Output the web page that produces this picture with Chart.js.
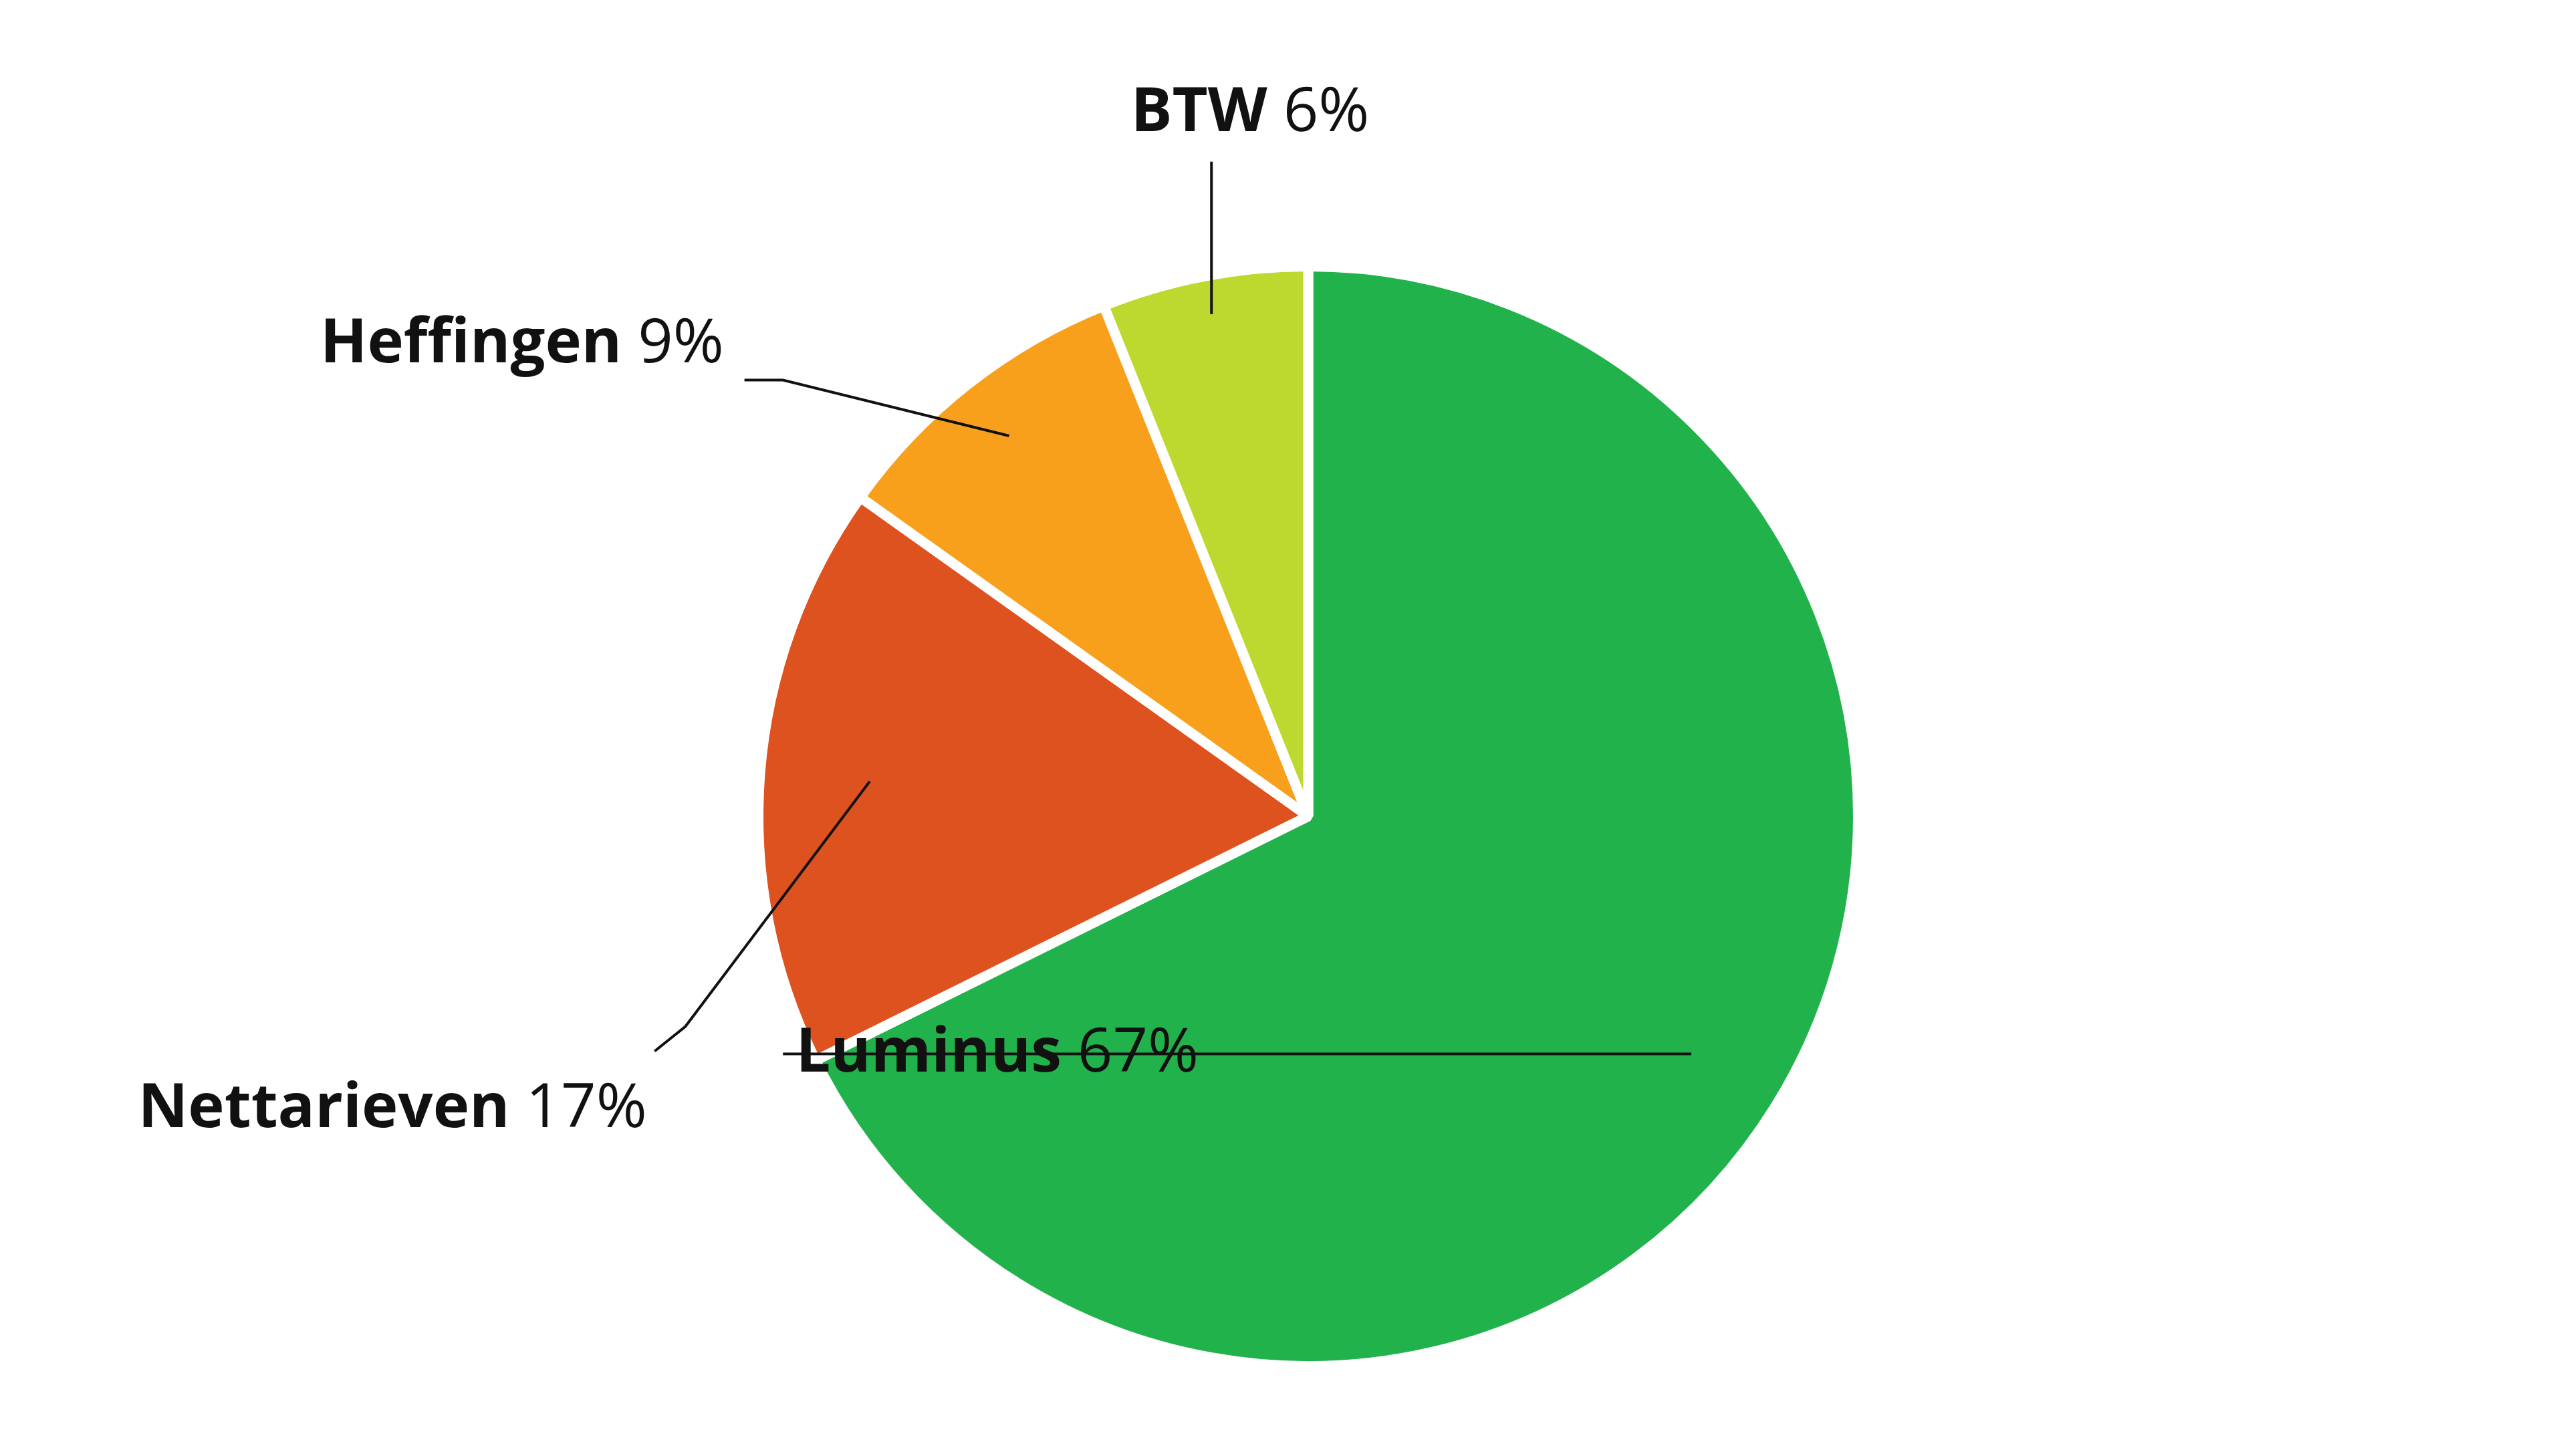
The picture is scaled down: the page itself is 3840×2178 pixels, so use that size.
<!DOCTYPE html>
<html>
<head>
<meta charset="utf-8">
<script src="https://cdn.jsdelivr.net/npm/chart.js@4.4.0/dist/chart.umd.min.js"></script>
<style>
  html, body { margin: 0; padding: 0; background: #fff; }
  #wrap { width: 3840px; height: 2178px; }
</style>
</head>
<body>
<div id="wrap"><canvas id="pie" width="3840" height="2178"></canvas></div>
<script>
// Données du graphique
const categories = ['Luminus', 'Nettarieven', 'Heffingen', 'BTW'];
const shares = [67, 17, 9, 6];
const shareLabels = ['67%', '17%', '9%', '6%'];
const colors = ['#22b24c', '#dd521f', '#f8a01c', '#bdd82e'];

// Position des étiquettes (fraction du rayon pour l'ancre, fractions du canvas pour coude et texte)
const labelLayout = [
  { r: 0.82, elbow: null,           end: [0.305, 0.342], text: [0.310, 0.342], align: 'left' },
  { r: 0.80, elbow: [0.267, 0.705], end: [0.255, 0.722], text: [0.252, 0.762], align: 'right' },
  { r: 0.88, elbow: [0.305, 0.261], end: [0.290, 0.261], text: [0.282, 0.237], align: 'right' },
  { r: 0.93, elbow: null,           end: [0.475, 0.111], text: [0.487, 0.078], align: 'center' }
];

const leaderPlugin = {
  id: 'leaders',
  afterDatasetsDraw(chart) {
    const ctx = chart.ctx;
    const W = chart.width, H = chart.height;
    const arcs = chart.getDatasetMeta(0).data;
    ctx.save();
    ctx.strokeStyle = '#111';
    ctx.lineWidth = 4;
    ctx.fillStyle = '#111';
    ctx.textBaseline = 'middle';
    arcs.forEach((arc, i) => {
      const p = arc.getProps(['x', 'y', 'startAngle', 'endAngle', 'outerRadius'], true);
      const mid = (p.startAngle + p.endAngle) / 2;
      const L = labelLayout[i];
      const ax = p.x + Math.cos(mid) * p.outerRadius * L.r;
      const ay = p.y + Math.sin(mid) * p.outerRadius * L.r;
      ctx.beginPath();
      ctx.moveTo(ax, ay);
      if (L.elbow) ctx.lineTo(L.elbow[0] * W, L.elbow[1] * H);
      else if (L.align === 'center') ctx.lineTo(ax, L.end[1] * H);
      if (L.align !== 'center') ctx.lineTo(L.end[0] * W, L.elbow ? L.end[1] * H : ay);
      ctx.stroke();

      const bold = 'bold 92px "Open Sans", "Noto Sans", sans-serif';
      const reg = '92px "Open Sans", "Noto Sans", sans-serif';
      const name = categories[i] + ' ';
      const pct = shareLabels[i];
      ctx.font = bold; const w1 = ctx.measureText(name).width;
      ctx.font = reg; const w2 = ctx.measureText(pct).width;
      let x = L.text[0] * W;
      if (L.align === 'right') x -= w1 + w2;
      if (L.align === 'center') x -= (w1 + w2) / 2;
      const y = L.align === 'left' ? ay : L.text[1] * H;
      ctx.textAlign = 'left';
      ctx.font = bold; ctx.fillText(name, x, y);
      ctx.font = reg; ctx.fillText(pct, x + w1, y);
    });
    ctx.restore();
  }
};

new Chart(document.getElementById('pie'), {
  type: 'pie',
  data: {
    labels: categories,
    datasets: [{
      data: shares,
      backgroundColor: colors,
      borderColor: '#ffffff',
      borderWidth: 15
    }]
  },
  options: {
    responsive: false,
    animation: false,
    devicePixelRatio: 1,
    layout: { padding: { top: 391, bottom: 127, left: 1127, right: 1053 } },
    plugins: { legend: { display: false }, tooltip: { enabled: false } }
  },
  plugins: [leaderPlugin]
});
</script>
</body>
</html>
